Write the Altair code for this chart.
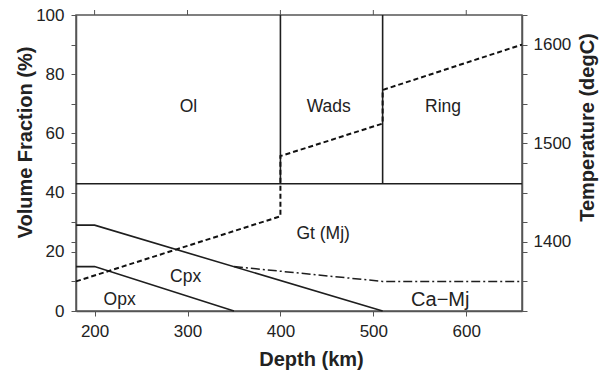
import altair as alt
import pandas as pd

# ---------------- data ----------------
x_domain = [180, 660]
pct_domain = [0, 100]
temp_domain = [1330, 1630]

x_ticks = [200, 300, 400, 500, 600]
pct_ticks = [0, 10, 20, 30, 40, 50, 60, 70, 80, 90, 100, 23.33, 56.67]
temp_ticks = [1330, 1360, 1390, 1400, 1420, 1450, 1480, 1500, 1510, 1540, 1570, 1600, 1630]

# phase boundaries (solid)
ol_depth = [180, 660]
ol_frac = [43, 43]
wads_depth = [400, 400]
wads_frac = [43, 100]
ring_depth = [510, 510]
ring_frac = [43, 100]
cpx_depth = [180, 200, 510]
cpx_frac = [29, 29, 0]
opx_depth = [180, 200, 350]
opx_frac = [15, 15, 0]

# Ca-Mj boundary (dash-dot)
camj_depth = [350, 510, 660]
camj_frac = [15, 10, 10]

# temperature (dashed)
temp_depth = [180, 400, 400, 510, 510, 660]
temp_val = [1360, 1426, 1487, 1520, 1554, 1600]

# labels
lab_text = ["Ol", "Wads", "Ring", "Gt (Mj)", "Cpx", "Opx"]
lab_depth = [301, 452, 575, 446, 298, 227]
lab_frac = [69, 69, 69, 26, 11.6, 3.7]
big_text = ["Ca\u2212Mj"]
big_depth = [572]
big_frac = [3.7]

# ---------------- tables ----------------
rows = []
for name, d, f in [("ol", ol_depth, ol_frac), ("wads", wads_depth, wads_frac),
                   ("ring", ring_depth, ring_frac), ("cpx", cpx_depth, cpx_frac),
                   ("opx", opx_depth, opx_frac)]:
    for i, (a, b) in enumerate(zip(d, f)):
        rows.append({"series": name, "depth": a, "frac": b, "o": i})
solid_df = pd.DataFrame(rows)
camj_df = pd.DataFrame({"depth": camj_depth, "frac": camj_frac, "o": range(len(camj_depth))})
temp_df = pd.DataFrame({"depth": temp_depth, "temp": temp_val, "o": range(len(temp_depth))})
lab_df = pd.DataFrame({"t": lab_text, "depth": lab_depth, "frac": lab_frac})
big_df = pd.DataFrame({"t": big_text, "depth": big_depth, "frac": big_frac})
top_df = pd.DataFrame({"depth": x_ticks})

FONT = "Liberation Sans"
AX = "#555555"
TXT = "#222222"

x_enc = alt.X("depth:Q", scale=alt.Scale(domain=x_domain, nice=False, zero=False),
              axis=alt.Axis(values=x_ticks, title="Depth (km)", orient="bottom",
                            labelPadding=7, titleX=235, titleY=54,
                            titleBaseline="alphabetic", titleAlign="center"))
y_enc = alt.Y("frac:Q", scale=alt.Scale(domain=pct_domain, nice=False, zero=False),
              axis=alt.Axis(values=pct_ticks, title="Volume Fraction (%)", orient="left",
                            labelExpr="datum.value % 20 == 0 ? datum.label : ''",
                            labelPadding=7, titleX=-45, titleY=127, titleAngle=270,
                            titleBaseline="alphabetic", titleAlign="center"))

solid = alt.Chart(solid_df).mark_line(color="#1e1e1e", strokeWidth=1.6).encode(
    x=x_enc, y=y_enc, detail="series:N", order="o:Q")
camj = alt.Chart(camj_df).mark_line(color="#1e1e1e", strokeWidth=1.5, strokeDash=[9, 3, 2, 3]).encode(
    x=x_enc, y=y_enc, order="o:Q")
labels = alt.Chart(lab_df).mark_text(font=FONT, fontSize=17.5, color=TXT, align="center", baseline="middle").encode(
    x=x_enc, y=y_enc, text="t:N")
big = alt.Chart(big_df).mark_text(font=FONT, fontSize=20, color=TXT, align="center", baseline="middle").encode(
    x=x_enc, y=y_enc, text="t:N")
top_ticks = alt.Chart(top_df).mark_rule(color=AX, strokeWidth=1).encode(
    x=x_enc, y=alt.value(-5), y2=alt.value(0))

pct_layer = alt.layer(solid, camj, labels, big, top_ticks)

temp_line = alt.Chart(temp_df).mark_line(color="#111111", strokeWidth=2, strokeDash=[5, 3]).encode(
    x=x_enc,
    y=alt.Y("temp:Q", scale=alt.Scale(domain=temp_domain, nice=False, zero=False),
            axis=alt.Axis(values=temp_ticks, title="Temperature (degC)", orient="right",
                          format="d",
                          labelExpr="datum.value % 100 == 0 ? datum.label : ''",
                          labelPadding=6, titleX=71, titleY=112, titleAngle=270,
                          titleBaseline="alphabetic", titleAlign="center")),
    order="o:Q")

chart = alt.layer(pct_layer, temp_line).resolve_scale(y="independent").properties(
    width=446, height=296,
    autosize=alt.AutoSizeParams(type="none"),
    padding={"left": 76, "top": 15, "right": 88, "bottom": 60},
    background="white",
).configure_view(stroke=AX, strokeWidth=1.5).configure_axis(
    grid=False, domainColor=AX, domainWidth=1.5, tickColor=AX, tickWidth=1, tickSize=5,
    labelFont=FONT, labelFontSize=17, labelColor=TXT,
    titleFont=FONT, titleFontSize=20, titleFontWeight="bold", titleColor=TXT,
)

chart.save("out.html", embed_options={"renderer": "svg", "actions": False})
